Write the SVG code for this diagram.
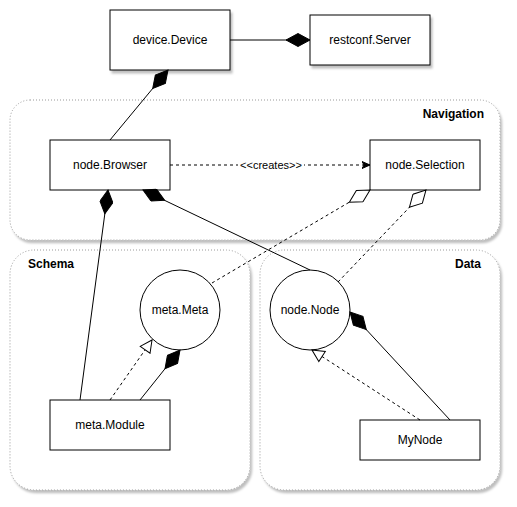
<svg xmlns="http://www.w3.org/2000/svg" width="517" height="507" viewBox="0 0 517 507">
<style>
  text { font-family: "Liberation Sans", Arial, sans-serif; font-size: 12px; fill: #000; }
  .lbl { text-anchor: middle; dominant-baseline: central; }
  .grp { font-weight: bold; }
  .box { fill: #fff; stroke: #000; stroke-width: 1; }
  .cont { fill: #fff; stroke: #999; stroke-width: 1; stroke-dasharray: 1 2; }
  .line { fill: none; stroke: #000; stroke-width: 1; }
  .dash { fill: none; stroke: #000; stroke-width: 1; stroke-dasharray: 3 3; }
  .elbl { font-size: 11px; text-anchor: middle; dominant-baseline: central; }
</style>
<defs>
  <filter id="sh" x="-10%" y="-10%" width="130%" height="130%">
    <feDropShadow dx="2" dy="3" stdDeviation="1.2" flood-color="#000" flood-opacity="0.25"/>
  </filter>
  <marker id="dfill" markerUnits="userSpaceOnUse" viewBox="0 0 26 14" refX="25" refY="7" markerWidth="26" markerHeight="14" orient="auto">
    <path d="M1,7 L13,0.5 L25,7 L13,13.5 Z" fill="#000" stroke="#000" stroke-width="1"/>
  </marker>
  <marker id="dopen" markerUnits="userSpaceOnUse" viewBox="0 0 26 14" refX="25" refY="7" markerWidth="26" markerHeight="14" orient="auto">
    <path d="M1,7 L13,0.5 L25,7 L13,13.5 Z" fill="#fff" stroke="#000" stroke-width="1" stroke-dasharray="none"/>
  </marker>
  <marker id="tri" markerUnits="userSpaceOnUse" viewBox="0 0 14 14" refX="13" refY="7" markerWidth="14" markerHeight="14" orient="auto">
    <path d="M1,1 L13,7 L1,13 Z" fill="#fff" stroke="#000" stroke-width="1"/>
  </marker>
  <marker id="arr" markerUnits="userSpaceOnUse" viewBox="0 0 9 8" refX="8.5" refY="4" markerWidth="9" markerHeight="8" orient="auto">
    <path d="M0.5,0.5 L8.5,4 L0.5,7.5 L2.5,4 Z" fill="#000" stroke="#000" stroke-width="1"/>
  </marker>
</defs>

<g id="containers">
  <g id="navigation">
    <rect class="cont" x="10" y="100" width="490" height="140" rx="20" ry="20" filter="url(#sh)"/>
    <text class="grp" x="484" y="118" text-anchor="end">Navigation</text>
  </g>
  <g id="schema">
    <rect class="cont" x="10" y="250" width="240" height="240" rx="24" ry="24" filter="url(#sh)"/>
    <text class="grp" x="28" y="268">Schema</text>
  </g>
  <g id="data">
    <rect class="cont" x="260" y="250" width="240" height="240" rx="24" ry="24" filter="url(#sh)"/>
    <text class="grp" x="481" y="268" text-anchor="end">Data</text>
  </g>
</g>

<g id="nodes">
  <g id="device-Device">
    <rect class="box" x="110" y="10" width="120" height="60" filter="url(#sh)"/>
    <text class="lbl" x="170" y="40">device.Device</text>
  </g>
  <g id="restconf-Server">
    <rect class="box" x="310" y="15" width="120" height="50" filter="url(#sh)"/>
    <text class="lbl" x="370" y="40">restconf.Server</text>
  </g>
  <g id="node-Browser">
    <rect class="box" x="50" y="140" width="120" height="50"/>
    <text class="lbl" x="110" y="165">node.Browser</text>
  </g>
  <g id="node-Selection">
    <rect class="box" x="370" y="140" width="110" height="50"/>
    <text class="lbl" x="425" y="165">node.Selection</text>
  </g>
  <g id="meta-Meta">
    <circle class="box" cx="180" cy="310" r="40"/>
    <text class="lbl" x="180" y="310">meta.Meta</text>
  </g>
  <g id="node-Node">
    <circle class="box" cx="310" cy="310" r="40"/>
    <text class="lbl" x="310" y="310">node.Node</text>
  </g>
  <g id="meta-Module">
    <rect class="box" x="50" y="400" width="120" height="50"/>
    <text class="lbl" x="110" y="425">meta.Module</text>
  </g>
  <g id="MyNode">
    <rect class="box" x="360" y="420" width="120" height="40"/>
    <text class="lbl" x="420" y="440">MyNode</text>
  </g>
</g>

<g id="connectors">
  <path class="line" d="M230,40 L310,40" marker-end="url(#dfill)"/>
  <path class="line" d="M110,140 L168,70" marker-end="url(#dfill)"/>
  <path class="dash" d="M170,165 L370,165" marker-end="url(#arr)"/>
  <rect x="238" y="158" width="66" height="14" fill="#fff"/>
  <text class="elbl" x="271" y="165">&lt;&lt;creates&gt;&gt;</text>
  <path class="line" d="M80,400 L108,190" marker-end="url(#dfill)"/>
  <path class="line" d="M310,270 L143,190" marker-end="url(#dfill)"/>
  <path class="dash" d="M212,283 L370,190" marker-end="url(#dopen)"/>
  <path class="dash" d="M338,282 L426,190" marker-end="url(#dopen)"/>
  <path class="dash" d="M110,400 L152,340" marker-end="url(#tri)"/>
  <path class="line" d="M140,400 L180,350" marker-end="url(#dfill)"/>
  <path class="line" d="M450,420 L350,312" marker-end="url(#dfill)"/>
  <path class="dash" d="M420,420 L312,350" marker-end="url(#tri)"/>
</g>
</svg>
